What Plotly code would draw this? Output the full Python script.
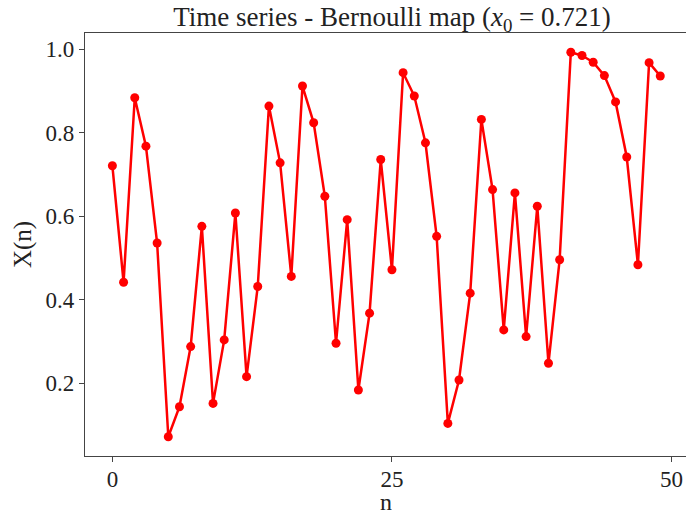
import plotly.graph_objects as go

n_values = list(range(50))
x_values = [0.721, 0.442, 0.884, 0.768, 0.536, 0.072, 0.144, 0.288, 0.576, 0.152,
            0.304, 0.608, 0.216, 0.432, 0.864, 0.728, 0.456, 0.912, 0.824, 0.648,
            0.296, 0.592, 0.184, 0.368, 0.736, 0.472, 0.944, 0.888, 0.776, 0.552,
            0.104, 0.208, 0.416, 0.832, 0.664, 0.328, 0.656, 0.312, 0.624, 0.248,
            0.496, 0.993, 0.985, 0.969, 0.937, 0.874, 0.742, 0.484, 0.968, 0.936]
x_ticks = [0, 25, 50]
y_ticks = [0.2, 0.4, 0.6, 0.8, 1.0]
y_tick_labels = ["0.2", "0.4", "0.6", "0.8", "1.0"]

FONT = "Liberation Serif"

fig = go.Figure()
fig.add_trace(go.Scatter(
    x=n_values, y=x_values, mode="lines+markers",
    line=dict(color="#ff0000", width=2.5),
    marker=dict(color="#ff0000", size=9),
    showlegend=False,
))

fig.update_layout(
    width=686, height=515,
    margin=dict(l=85, r=0, t=33, b=59),
    paper_bgcolor="white", plot_bgcolor="white",
    font=dict(family=FONT, color="#222", size=23),
    title=dict(
        text="Time series - Bernoulli map (<i>x</i><sub>0</sub> = 0.721)",
        x=392 / 686, xref="container", xanchor="center",
        y=1 - 17 / 515, yref="container", yanchor="middle",
        font=dict(family=FONT, size=27, color="#222"),
    ),
    annotations=[dict(
        text="n", xref="paper", yref="paper", x=0.5, y=-(502 - 456) / 423,
        xanchor="center", yanchor="middle", showarrow=False, height=20,
        font=dict(family=FONT, size=24, color="#222"),
    )],
)

fig.update_xaxes(
    range=[-2.45, 51.3], automargin=False,
    tickmode="array", tickvals=x_ticks, ticktext=[str(t) for t in x_ticks],
    ticks="outside", ticklen=5, tickcolor="#444", tickwidth=1,
    ticklabelstandoff=-3,
    showline=True, linecolor="#444", linewidth=1.2, mirror=True,
    showgrid=False, zeroline=False,
    tickfont=dict(family=FONT, size=23),
)
fig.update_yaxes(
    range=[0.026, 1.039], automargin=False,
    tickmode="array", tickvals=y_ticks, ticktext=y_tick_labels,
    ticks="outside", ticklen=5, tickcolor="#444", tickwidth=1,
    showline=True, linecolor="#444", linewidth=1.2, mirror=False,
    showgrid=False, zeroline=False,
    title=dict(text="X(n)", font=dict(family=FONT, size=25), standoff=6),
    tickfont=dict(family=FONT, size=23),
)

fig.write_html("out.html")
